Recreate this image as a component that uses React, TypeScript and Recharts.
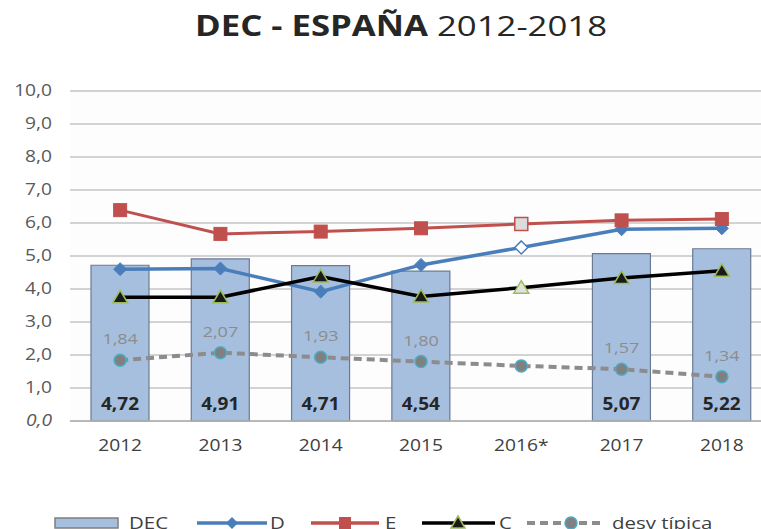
import React from 'react'
import {
  ComposedChart, Bar, Line, XAxis, YAxis, CartesianGrid, LabelList
} from 'recharts'

const years = ['2012', '2013', '2014', '2015', '2016*', '2017', '2018']
const decValues = [4.72, 4.91, 4.71, 4.54, null, 5.07, 5.22]
const dValues = [4.6, 4.62, 3.92, 4.73, 5.26, 5.81, 5.84]
const eValues = [6.39, 5.67, 5.74, 5.84, 5.97, 6.08, 6.12]
const cValues = [3.75, 3.75, 4.38, 3.77, 4.04, 4.33, 4.55]
const desvValues = [1.84, 2.07, 1.93, 1.8, 1.67, 1.57, 1.34]
const desvShown = [true, true, true, true, false, true, true]
const yTicks = [0, 1, 2, 3, 4, 5, 6, 7, 8, 9, 10]

const data = years.map((year, i) => ({
  year,
  dec: decValues[i],
  d: dValues[i],
  e: eValues[i],
  c: cValues[i],
  desv: desvValues[i],
}))

const FONT = '"Open Sans", "DejaVu Sans", sans-serif'
const HOLLOW = 4 // 2016* is an estimate, drawn with open markers
const WIDE = 1.2 // the source image is stretched sideways

const comma = (v: number, digits = 1) => v.toFixed(digits).replace('.', ',')

const YTick = (props: any) => {
  const { x, y, payload } = props
  return (
    <text transform={`translate(${x},${y}) scale(${WIDE},1)`} dy={5} textAnchor="end" fill="#595959" fontSize={16}
      fontFamily={FONT} fontStyle={payload.value === 0 ? 'italic' : 'normal'}>
      {comma(payload.value)}
    </text>
  )
}

const XTick = (props: any) => {
  const { x, y, payload } = props
  return (
    <text transform={`translate(${x},${y}) scale(${WIDE},1)`} dy={12} textAnchor="middle" fill="#404040"
      fontSize={16} fontFamily={FONT}>
      {payload.value}
    </text>
  )
}

const Diamond = (props: any) => {
  const { cx, cy, index } = props
  if (cx == null || cy == null) return <g key={`dd-${index}`} />
  const s = 6.5
  const hollow = index === HOLLOW
  return (
    <path key={`dd-${index}`} d={`M${cx},${cy - s}L${cx + s},${cy}L${cx},${cy + s}L${cx - s},${cy}Z`}
      fill={hollow ? '#ffffff' : '#4a7ebb'} stroke="#4a7ebb" strokeWidth={hollow ? 1.5 : 1} />
  )
}

const Square = (props: any) => {
  const { cx, cy, index } = props
  if (cx == null || cy == null) return <g key={`ds-${index}`} />
  const s = 6.5
  const hollow = index === HOLLOW
  return (
    <rect key={`ds-${index}`} x={cx - s} y={cy - s} width={s * 2} height={s * 2}
      fill={hollow ? '#dcdcdc' : '#c0504d'} stroke="#c0504d" strokeWidth={hollow ? 1.5 : 1} />
  )
}

const Triangle = (props: any) => {
  const { cx, cy, index } = props
  if (cx == null || cy == null) return <g key={`dt-${index}`} />
  const hollow = index === HOLLOW
  return (
    <path key={`dt-${index}`} d={`M${cx},${cy - 7}L${cx + 7.5},${cy + 5.5}L${cx - 7.5},${cy + 5.5}Z`}
      fill={hollow ? '#e0e0e0' : '#1a1a1a'} stroke="#9bbb59" strokeWidth={1.5} />
  )
}

const Circle = (props: any) => {
  const { cx, cy, index } = props
  if (cx == null || cy == null) return <g key={`dc-${index}`} />
  return <circle key={`dc-${index}`} cx={cx} cy={cy} r={6} fill="#808080" stroke="#4bacc6" strokeWidth={1.5} />
}

const DecLabel = (props: any) => {
  const { x, y, width, height, value } = props
  if (value == null) return null
  return (
    <text transform={`translate(${x + width / 2},${y + height - 11}) scale(1.12,1)`} textAnchor="middle" fill="#262626"
      fontSize={17} fontWeight={700} fontFamily={FONT}>
      {comma(value, 2)}
    </text>
  )
}

const DesvLabel = (props: any) => {
  const { x, y, value, index } = props
  if (!desvShown[index]) return null
  return (
    <text transform={`translate(${x},${y - 16}) scale(${WIDE},1)`} textAnchor="middle" fill="#8c8c8c" fontSize={15} fontFamily={FONT}>
      {comma(value, 2)}
    </text>
  )
}

function LegendRow() {
  const txt = {
    position: 'absolute' as const, top: 511, fontSize: 17, color: '#404040', fontFamily: FONT,
    transform: `scaleX(${WIDE})`, transformOrigin: 'left top', whiteSpace: 'nowrap' as const,
  }
  return (
    <>
      <svg width={761} height={30} style={{ position: 'absolute', left: 0, top: 509 }}>
        <rect x={55} y={9} width={63} height={10} fill="#a7bfde" stroke="#7f7f7f" strokeWidth={1.5} />
        <line x1={197} x2={267} y1={14} y2={14} stroke="#4a7ebb" strokeWidth={3.5} />
        <path d="M232,8L238,14L232,20L226,14Z" fill="#4a7ebb" />
        <line x1={311} x2={379} y1={14} y2={14} stroke="#c0504d" strokeWidth={3.5} />
        <rect x={339} y={8} width={12} height={12} fill="#c0504d" />
        <line x1={422} x2={495} y1={14} y2={14} stroke="#000000" strokeWidth={3.5} />
        <path d="M458,7L465,19L451,19Z" fill="#1a1a1a" stroke="#9bbb59" strokeWidth={1.5} />
        <line x1={527} x2={602} y1={14} y2={14} stroke="#8c8c8c" strokeWidth={4} strokeDasharray="8 5" />
        <circle cx={571} cy={14} r={6} fill="#808080" stroke="#4bacc6" strokeWidth={1.5} />
      </svg>
      <span style={{ ...txt, left: 129 }}>DEC</span>
      <span style={{ ...txt, left: 270 }}>D</span>
      <span style={{ ...txt, left: 385 }}>E</span>
      <span style={{ ...txt, left: 499 }}>C</span>
      <span style={{ ...txt, left: 612 }}>desv típica</span>
    </>
  )
}

export default function App() {
  return (
    <div style={{ position: 'absolute', left: 0, top: 0, width: 761, height: 529, overflow: 'hidden', background: '#ffffff' }}>
      <div style={{
        position: 'absolute', top: 6, left: 195, fontFamily: FONT, fontSize: 28, color: '#262626',
        whiteSpace: 'nowrap', transform: 'scaleX(1.24)', transformOrigin: 'left top',
      }}>
        <b>DEC - ESPAÑA</b> 2012-2018
      </div>
      <ComposedChart width={800} height={550} data={data}
        margin={{ top: 91, right: 28, left: 0, bottom: 99 }}
        style={{ position: 'absolute', left: 0, top: 0 }}>
        <CartesianGrid vertical={false} stroke="#c4c4c4" strokeWidth={1.5} fill="#fdfdfd" />
        <XAxis dataKey="year" height={30} axisLine={{ stroke: '#b0b0b0', strokeWidth: 1.5 }} tickLine={false}
          tickMargin={12} tick={<XTick />} />
        <YAxis width={70} domain={[0, 10]} ticks={yTicks} axisLine={false} tickLine={false}
          tickMargin={12} tick={<YTick />} />
        <Bar dataKey="dec" barSize={58} fill="#a7bfde" stroke="#6b7a94" strokeWidth={1.2} isAnimationActive={false}>
          <LabelList dataKey="dec" content={<DecLabel />} />
        </Bar>
        <Line type="linear" dataKey="d" stroke="#4a7ebb" strokeWidth={3.5} dot={<Diamond />} activeDot={false} isAnimationActive={false} />
        <Line type="linear" dataKey="e" stroke="#c0504d" strokeWidth={3} dot={<Square />} activeDot={false} isAnimationActive={false} />
        <Line type="linear" dataKey="c" stroke="#000000" strokeWidth={3.5} dot={<Triangle />} activeDot={false} isAnimationActive={false} />
        <Line type="linear" dataKey="desv" stroke="#8c8c8c" strokeWidth={4} strokeDasharray="8 5" dot={<Circle />} activeDot={false} isAnimationActive={false}>
          <LabelList dataKey="desv" content={<DesvLabel />} />
        </Line>
      </ComposedChart>
      <LegendRow />
    </div>
  )
}
